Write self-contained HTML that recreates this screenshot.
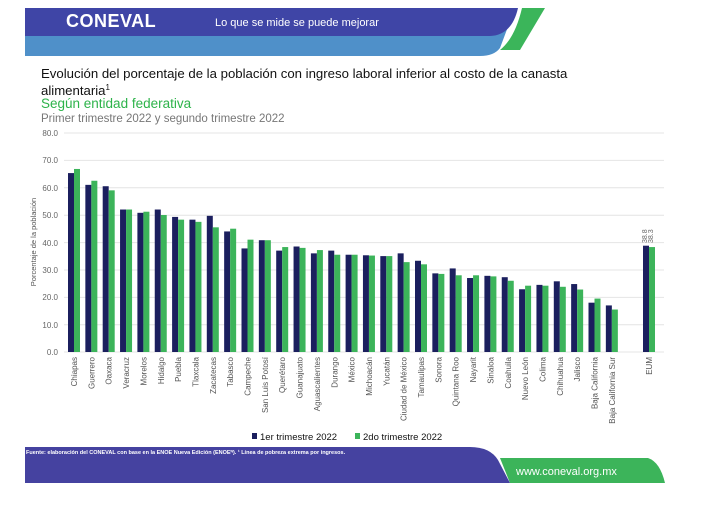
<!DOCTYPE html>
<html><head><meta charset="utf-8"><style>
html,body{margin:0;padding:0;background:#fff;}
body{width:727px;height:504px;overflow:hidden;font-family:"Liberation Sans",sans-serif;}
</style></head><body>
<svg width="727" height="504" viewBox="0 0 727 504" xmlns="http://www.w3.org/2000/svg" font-family="Liberation Sans, sans-serif">
<!-- header -->
<path d="M25 8 L515 8 L500 48 Q494 56 480 56 L25 56 Z" fill="#4f90c9"/>
<path d="M25 8 L518 8 Q512 35 490 36 L25 36 Z" fill="#3f45a6"/>
<path d="M522 8 L545 8 L520 50 L500 50 Q515 38 522 8 Z" fill="#3bb55a"/>
<text x="66" y="27" font-size="18" font-weight="bold" fill="#fff" letter-spacing="0.5">CONEVAL</text>
<text x="215" y="26" font-size="11" fill="#fff">Lo que se mide se puede mejorar</text>
<text x="41" y="78" font-size="13.2" fill="#111">Evolución del porcentaje de la población con ingreso laboral inferior al costo de la canasta</text>
<text x="41" y="95" font-size="13.2" fill="#111">alimentaria<tspan font-size="8" dy="-5">1</tspan></text>
<text x="41" y="108" font-size="13.5" fill="#2db34a">Según entidad federativa</text>
<text x="41" y="122" font-size="11.5" fill="#777">Primer trimestre 2022 y segundo trimestre 2022</text>
<!-- grid -->
<g stroke="#e4e4e4" stroke-width="1">
<line x1="64" x2="664" y1="133" y2="133"/><line x1="64" x2="664" y1="160.4" y2="160.4"/>
<line x1="64" x2="664" y1="187.8" y2="187.8"/><line x1="64" x2="664" y1="215.2" y2="215.2"/>
<line x1="64" x2="664" y1="242.6" y2="242.6"/><line x1="64" x2="664" y1="270" y2="270"/>
<line x1="64" x2="664" y1="297.4" y2="297.4"/><line x1="64" x2="664" y1="324.8" y2="324.8"/>
<line x1="64" x2="664" y1="352" y2="352"/>
</g>
<g font-size="8" fill="#666" text-anchor="end">
<text x="58" y="136">80.0</text><text x="58" y="163">70.0</text><text x="58" y="191">60.0</text>
<text x="58" y="218">50.0</text><text x="58" y="246">40.0</text><text x="58" y="273">30.0</text>
<text x="58" y="300">20.0</text><text x="58" y="328">10.0</text><text x="58" y="355">0.0</text>
</g>
<text transform="translate(36,242) rotate(-90)" font-size="7.5" fill="#555" text-anchor="middle">Porcentaje de la población</text>
<!-- bars -->
<g transform="translate(0,352) scale(1,-2.74)">
<g fill="#1b1f5e">
<rect x="68" width="6" height="65.3"/><rect x="85.35" width="6" height="61"/><rect x="102.7" width="6" height="60.5"/>
<rect x="120.05" width="6" height="52"/><rect x="137.4" width="6" height="50.8"/><rect x="154.75" width="6" height="52"/>
<rect x="172.1" width="6" height="49.3"/><rect x="189.45" width="6" height="48.3"/><rect x="206.8" width="6" height="49.7"/>
<rect x="224.15" width="6" height="44"/><rect x="241.5" width="6" height="37.8"/><rect x="258.85" width="6" height="40.8"/>
<rect x="276.2" width="6" height="37"/><rect x="293.55" width="6" height="38.5"/><rect x="310.9" width="6" height="36"/>
<rect x="328.25" width="6" height="37"/><rect x="345.6" width="6" height="35.5"/><rect x="362.95" width="6" height="35.3"/>
<rect x="380.3" width="6" height="35"/><rect x="397.65" width="6" height="36"/><rect x="415" width="6" height="33.3"/>
<rect x="432.35" width="6" height="28.7"/><rect x="449.7" width="6" height="30.5"/><rect x="467.05" width="6" height="27"/>
<rect x="484.4" width="6" height="27.8"/><rect x="501.75" width="6" height="27.3"/><rect x="519.1" width="6" height="22.9"/>
<rect x="536.45" width="6" height="24.5"/><rect x="553.8" width="6" height="25.8"/><rect x="571.15" width="6" height="24.8"/>
<rect x="588.5" width="6" height="18"/><rect x="605.85" width="6" height="17"/><rect x="643" width="6" height="38.8"/>
</g>
<g fill="#3cb45a">
<rect x="74" width="6" height="66.8"/><rect x="91.35" width="6" height="62.5"/><rect x="108.7" width="6" height="59"/>
<rect x="126.05" width="6" height="52"/><rect x="143.4" width="6" height="51.2"/><rect x="160.75" width="6" height="50"/>
<rect x="178.1" width="6" height="48.3"/><rect x="195.45" width="6" height="47.5"/><rect x="212.8" width="6" height="45.5"/>
<rect x="230.15" width="6" height="45"/><rect x="247.5" width="6" height="41"/><rect x="264.85" width="6" height="40.8"/>
<rect x="282.2" width="6" height="38.3"/><rect x="299.55" width="6" height="38"/><rect x="316.9" width="6" height="37.2"/>
<rect x="334.25" width="6" height="35.5"/><rect x="351.6" width="6" height="35.5"/><rect x="368.95" width="6" height="35.2"/>
<rect x="386.3" width="6" height="35"/><rect x="403.65" width="6" height="32.8"/><rect x="421" width="6" height="32"/>
<rect x="438.35" width="6" height="28.5"/><rect x="455.7" width="6" height="28"/><rect x="473.05" width="6" height="28"/>
<rect x="490.4" width="6" height="27.6"/><rect x="507.75" width="6" height="26"/><rect x="525.1" width="6" height="24.2"/>
<rect x="542.45" width="6" height="24.2"/><rect x="559.8" width="6" height="23.8"/><rect x="577.15" width="6" height="22.8"/>
<rect x="594.5" width="6" height="19.5"/><rect x="611.85" width="6" height="15.5"/><rect x="649" width="6" height="38.3"/>
</g>
</g>
<text transform="translate(647,243) rotate(-90)" font-size="7" fill="#666">38.8</text>
<text transform="translate(653,243) rotate(-90)" font-size="7" fill="#666">38.3</text>
<!-- labels -->
<g font-size="8" fill="#555" text-anchor="end">
<text transform="translate(77,357) rotate(-90)">Chiapas</text>
<text transform="translate(94.35,357) rotate(-90)">Guerrero</text>
<text transform="translate(111.7,357) rotate(-90)">Oaxaca</text>
<text transform="translate(129.05,357) rotate(-90)">Veracruz</text>
<text transform="translate(146.4,357) rotate(-90)">Morelos</text>
<text transform="translate(163.75,357) rotate(-90)">Hidalgo</text>
<text transform="translate(181.1,357) rotate(-90)">Puebla</text>
<text transform="translate(198.45,357) rotate(-90)">Tlaxcala</text>
<text transform="translate(215.8,357) rotate(-90)">Zacatecas</text>
<text transform="translate(233.15,357) rotate(-90)">Tabasco</text>
<text transform="translate(250.5,357) rotate(-90)">Campeche</text>
<text transform="translate(267.85,357) rotate(-90)">San Luis Potosí</text>
<text transform="translate(285.2,357) rotate(-90)">Querétaro</text>
<text transform="translate(302.55,357) rotate(-90)">Guanajuato</text>
<text transform="translate(319.9,357) rotate(-90)">Aguascalientes</text>
<text transform="translate(337.25,357) rotate(-90)">Durango</text>
<text transform="translate(354.6,357) rotate(-90)">México</text>
<text transform="translate(371.95,357) rotate(-90)">Michoacán</text>
<text transform="translate(389.3,357) rotate(-90)">Yucatán</text>
<text transform="translate(406.65,357) rotate(-90)">Ciudad de México</text>
<text transform="translate(424,357) rotate(-90)">Tamaulipas</text>
<text transform="translate(441.35,357) rotate(-90)">Sonora</text>
<text transform="translate(458.7,357) rotate(-90)">Quintana Roo</text>
<text transform="translate(476.05,357) rotate(-90)">Nayarit</text>
<text transform="translate(493.4,357) rotate(-90)">Sinaloa</text>
<text transform="translate(510.75,357) rotate(-90)">Coahuila</text>
<text transform="translate(528.1,357) rotate(-90)">Nuevo León</text>
<text transform="translate(545.45,357) rotate(-90)">Colima</text>
<text transform="translate(562.8,357) rotate(-90)">Chihuahua</text>
<text transform="translate(580.15,357) rotate(-90)">Jalisco</text>
<text transform="translate(597.5,357) rotate(-90)">Baja California</text>
<text transform="translate(614.85,357) rotate(-90)">Baja California Sur</text>
<text transform="translate(652,357) rotate(-90)">EUM</text>
</g>
<!-- legend -->
<rect x="252" y="433" width="5" height="6" fill="#1b1f5e"/>
<text x="260" y="440" font-size="9.5" fill="#111">1er trimestre 2022</text>
<rect x="355" y="433" width="5" height="6" fill="#3cb45a"/>
<text x="363" y="440" font-size="9.5" fill="#111">2do trimestre 2022</text>
<!-- footer -->
<path d="M500 458 L648 458 Q660 462 665 483 L510 483 Z" fill="#3cb45a"/>
<path d="M25 447 L470 447 Q490 447 498 460 L510 483 L25 483 Z" fill="#4542a0"/>
<text x="26" y="454" font-size="5.5" fill="#fff" font-weight="bold">Fuente: elaboración del CONEVAL con base en la ENOE Nueva Edición (ENOEᴺ). ¹ Línea de pobreza extrema por ingresos.</text>
<text x="516" y="475" font-size="11" fill="#fff">www.coneval.org.mx</text>
</svg>
</body></html>
